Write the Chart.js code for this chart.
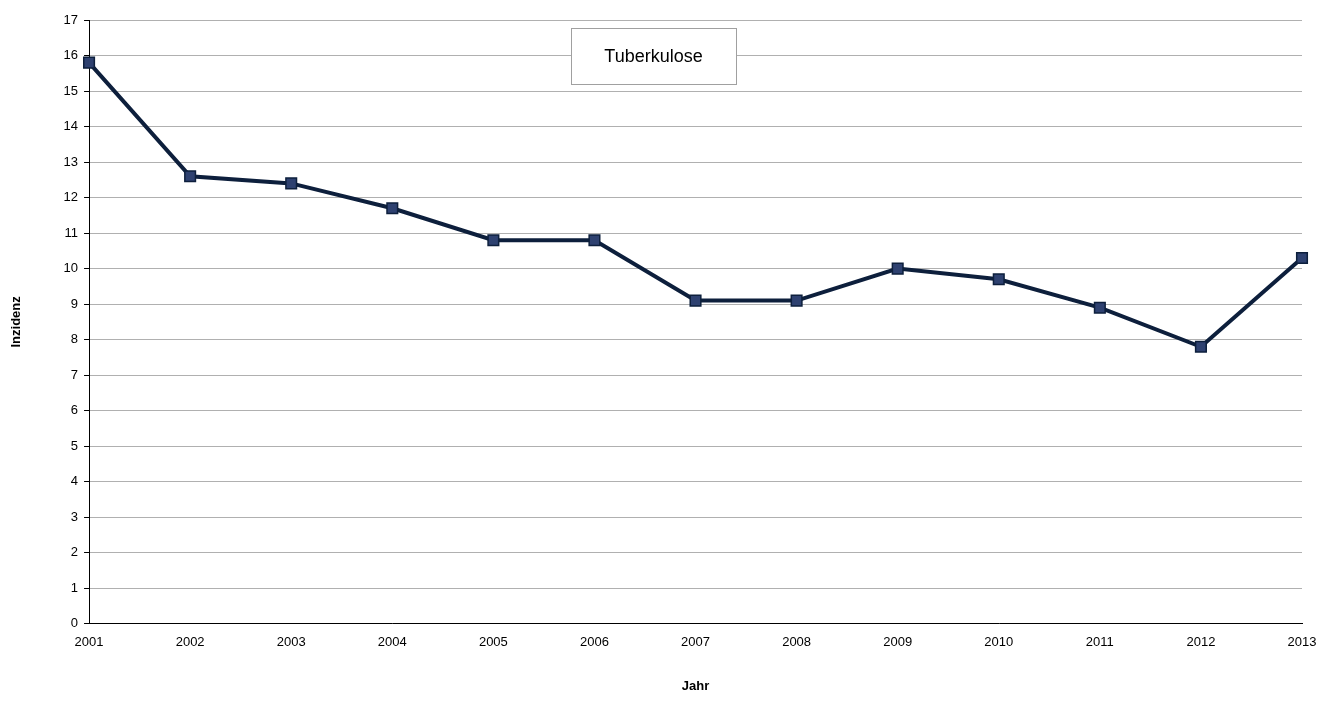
<!DOCTYPE html>
<html lang="de">
<head>
<meta charset="UTF-8">
<title>Tuberkulose</title>
<script src="https://cdn.jsdelivr.net/npm/chart.js"></script>
<style>
  html, body { margin: 0; padding: 0; background: #fff; }
  #wrap { width: 1338px; height: 704px; }
</style>
</head>
<body>
<div id="wrap"><canvas id="myChart" width="1338" height="704"></canvas></div>
<script>
var jahre = ['2001','2002','2003','2004','2005','2006','2007','2008','2009','2010','2011','2012','2013'];
var inzidenz = [15.8, 12.6, 12.4, 11.7, 10.8, 10.8, 9.1, 9.1, 10.0, 9.7, 8.9, 7.8, 10.3];
var serienName = 'Tuberkulose';

// legend box drawn inside the plot area, like the original
var legendBox = {
    id: 'legendBox',
    afterDraw: function(chart) {
        var ctx = chart.ctx;
        var x = 571, y = 28, w = 165, h = 56;
        ctx.save();
        ctx.fillStyle = '#fff';
        ctx.fillRect(x, y, w, h);
        ctx.strokeStyle = '#a0a0a0';
        ctx.lineWidth = 1;
        ctx.strokeRect(x + 0.5, y + 0.5, w, h);
        ctx.fillStyle = '#000';
        ctx.font = '18px "Liberation Sans", Arial, sans-serif';
        ctx.textAlign = 'center';
        ctx.textBaseline = 'middle';
        ctx.fillText(serienName, x + w / 2, y + h / 2 + 1);
        ctx.restore();
    }
};

new Chart(document.getElementById('myChart'), {
    type: 'line',
    data: {
        labels: jahre,
        datasets: [{
            label: serienName,
            data: inzidenz,
            borderColor: '#0d1f3c',
            borderWidth: 4,
            tension: 0,
            pointStyle: 'rect',
            pointRadius: 7.5,
            pointBackgroundColor: '#2e4170',
            pointBorderColor: '#0d1f3c',
            pointBorderWidth: 1.5
        }]
    },
    options: {
        responsive: false,
        animation: false,
        layout: { padding: { top: 20, right: 36, left: 5, bottom: 6 } },
        plugins: { legend: { display: false }, tooltip: { enabled: false } },
        scales: {
            x: {
                offset: false,
                grid: { display: false, drawTicks: true, tickLength: 5, color: '#000' },
                border: { color: '#000' },
                ticks: { color: '#000', font: { size: 13, family: 'Liberation Sans' }, maxRotation: 0, padding: 6 },
                title: { display: true, text: 'Jahr', color: '#000', font: { size: 13, weight: 'bold', family: 'Liberation Sans' }, padding: { top: 22 } }
            },
            y: {
                min: 0, max: 17,
                ticks: { stepSize: 1, color: '#000', font: { size: 13, family: 'Liberation Sans' }, padding: 6 },
                grid: { color: '#b0b0b0', tickColor: '#000', tickLength: 5 },
                border: { color: '#000' },
                title: { display: true, text: 'Inzidenz', color: '#000', font: { size: 13, weight: 'bold', family: 'Liberation Sans' }, padding: { bottom: 33 } }
            }
        }
    },
    plugins: [legendBox]
});
</script>
</body>
</html>
